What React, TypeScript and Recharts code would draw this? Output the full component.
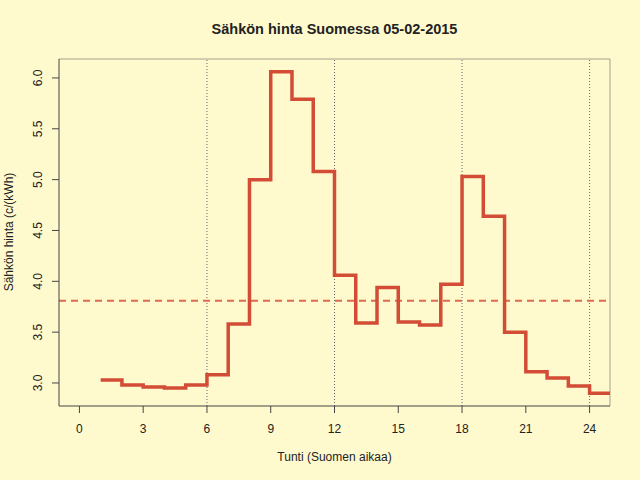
import React from 'react';
import { LineChart, Line, XAxis, YAxis, ReferenceLine } from 'recharts';

// Tunnit ja hinnat (c/kWh), luettu kuvasta
const hours = [1, 2, 3, 4, 5, 6, 7, 8, 9, 10, 11, 12, 13, 14, 15, 16, 17, 18, 19, 20, 21, 22, 23, 24];
const prices = [
  3.03, 2.98, 2.96, 2.95, 2.98, 3.08, 3.58, 5.0, 6.06, 5.79, 5.08, 4.06,
  3.59, 3.94, 3.6, 3.57, 3.97, 5.03, 4.64, 3.5, 3.11, 3.05, 2.97, 2.9,
];
const xTicks = [0, 3, 6, 9, 12, 15, 18, 21, 24];
const yTicks = [3.0, 3.5, 4.0, 4.5, 5.0, 5.5, 6.0];
const gridHours = [6, 12, 18, 24];

const BG = '#FFFACD';
const LINE = '#d24c36';
const FONT = '"Liberation Sans", Arial, sans-serif';

// step-after: viimeinen tunti jatkuu seuraavan tunnin alkuun
const data = [
  ...hours.map((h, i) => ({ hour: h, price: prices[i] })),
  { hour: hours[hours.length - 1] + 1, price: prices[prices.length - 1] },
];
const mean = prices.reduce((a, b) => a + b, 0) / prices.length;

// R:n tapaan 4 % laajennus
const yMin = Math.min(...prices);
const yMax = Math.max(...prices);
const yPad = (yMax - yMin) * 0.04;
const yDomain = [yMin - yPad, yMax + yPad];
const xDomain = [-0.96, 24.96];

const YTick = (props: any) => {
  const { y, payload } = props;
  return (
    <text
      x={0}
      y={0}
      transform={`translate(42, ${y}) rotate(-90)`}
      textAnchor="middle"
      fontSize={12}
      fontFamily={FONT}
      fill="#222"
    >
      {Number(payload.value).toFixed(1)}
    </text>
  );
};

const App = () => {
  return (
    <div style={{ position: 'fixed', left: 0, top: 0, width: 640, height: 480, background: BG, fontFamily: FONT }}>
      <div
        style={{
          position: 'absolute',
          left: 59,
          width: 551,
          top: 21,
          textAlign: 'center',
          fontSize: 14.5,
          fontWeight: 'bold',
          color: '#222',
        }}
      >
        Sähkön hinta Suomessa 05-02-2015
      </div>
      <div
        style={{
          position: 'absolute',
          left: 59,
          width: 551,
          top: 450,
          textAlign: 'center',
          fontSize: 12,
          color: '#222',
        }}
      >
        Tunti (Suomen aikaa)
      </div>
      <div
        style={{
          position: 'absolute',
          left: 9,
          top: 232,
          transform: 'translate(-50%, -50%) rotate(-90deg)',
          whiteSpace: 'nowrap',
          fontSize: 12,
          color: '#222',
        }}
      >
        Sähkön hinta (c/(kWh)
      </div>
      <LineChart
        width={640}
        height={480}
        data={data}
        margin={{ top: 59, right: 30, bottom: 44, left: 0 }}
        style={{ position: 'absolute', left: 0, top: 0 }}
      >
        <XAxis
          type="number"
          dataKey="hour"
          domain={xDomain}
          ticks={xTicks}
          allowDataOverflow
          height={30}
          tickSize={7}
          tickMargin={11}
          tick={{ fontSize: 12, fontFamily: FONT, fill: '#222' }}
          axisLine={{ stroke: '#444' }}
          tickLine={{ stroke: '#444' }}
        />
        <YAxis
          type="number"
          domain={yDomain}
          ticks={yTicks}
          allowDataOverflow
          width={59}
          tickSize={7}
          tick={<YTick />}
          axisLine={{ stroke: '#444' }}
          tickLine={{ stroke: '#444' }}
        />
        {gridHours.map((h) => (
          <ReferenceLine key={h} x={h} stroke="#666" strokeDasharray="1 2" />
        ))}
        <ReferenceLine y={yDomain[1]} stroke="#a8a08a" />
        <ReferenceLine x={xDomain[1]} stroke="#a8a08a" />
        <ReferenceLine y={mean} stroke="#dc6a52" strokeWidth={2} strokeDasharray="7 5" />
        <Line
          type="stepAfter"
          dataKey="price"
          stroke={LINE}
          strokeWidth={3.5}
          dot={false}
          activeDot={false}
          isAnimationActive={false}
        />
      </LineChart>
    </div>
  );
};

export default App;
